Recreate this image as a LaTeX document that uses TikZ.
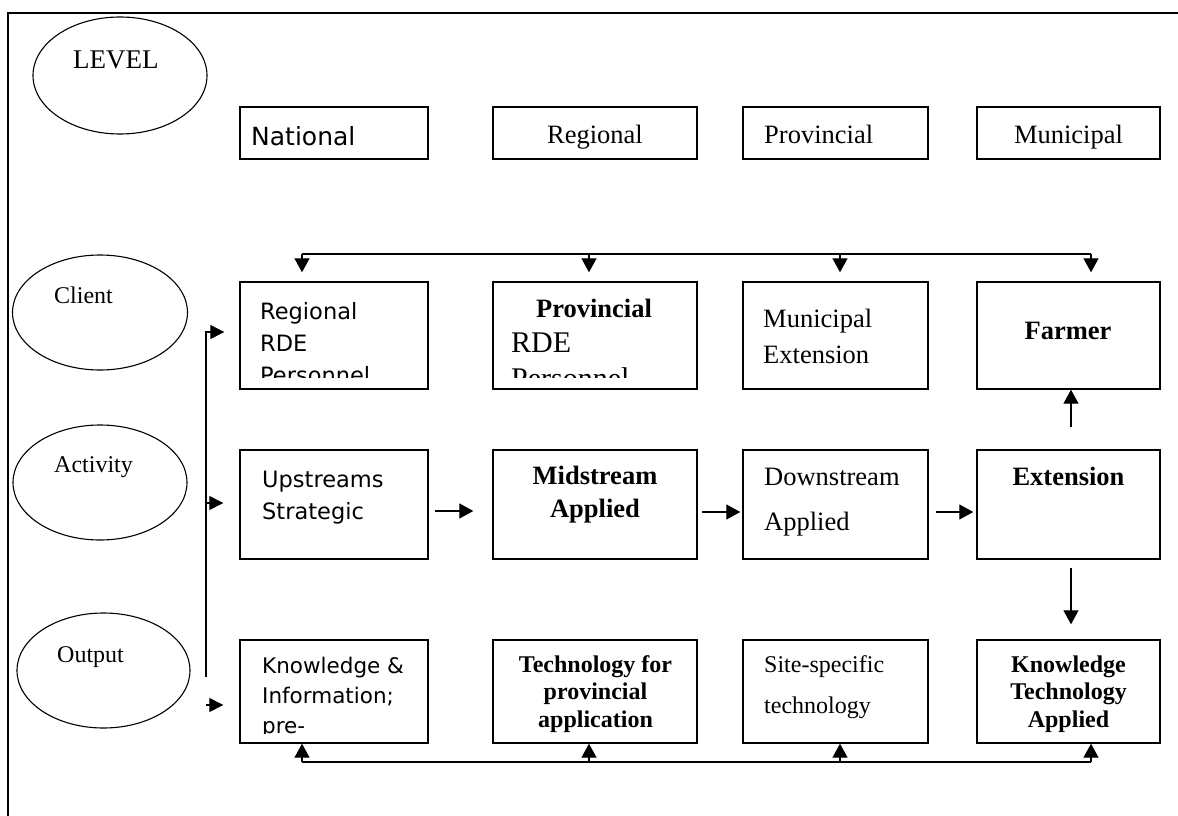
\documentclass[tikz,border=0pt]{standalone}
\usepackage{fontspec}
\setmainfont{Liberation Serif}
\newfontfamily\tahfont{DejaVu Sans}
\usetikzlibrary{shapes.geometric,arrows.meta}
\newcommand{\fs}[2]{\fontsize{#1bp}{#2bp}\selectfont}
\newcommand{\lft}[1]{\begin{tabular}[t]{@{}l@{}}#1\end{tabular}}
\newcommand{\ctr}[1]{\begin{tabular}[t]{@{}c@{}}#1\end{tabular}}
\tikzset{
  box/.style={draw, line width=1.4bp, rectangle, inner sep=0pt},
  oval/.style={draw, line width=1.1bp, ellipse, inner sep=0pt},
  conn/.style={line width=1.3bp},
  arr/.style={conn, -{Triangle[length=14bp,width=15bp]}},
  sarr/.style={conn, -{Triangle[length=14bp,width=14bp]}},
  txt/.style={inner sep=0pt, anchor=base west},
  ctxt/.style={inner sep=0pt, anchor=base},
}
\begin{document}
\begin{tikzpicture}[x=1bp,y=-1bp]
\useasboundingbox (0,0) rectangle (1178,816);
\fill[white] (0,0) rectangle (1178,816);
% frame
\coordinate (fbl) at (8,816);
\coordinate (ftl) at (8,13);
\coordinate (ftr) at (1178,13);
\draw[line width=2bp] (fbl) -- (ftl) -- (ftr);
% ellipses
\node[oval, minimum width=174bp, minimum height=117bp] (elev) at (120,75.5) {};
\node[oval, minimum width=175bp, minimum height=115bp] (ecli) at (100,312.5) {};
\node[oval, minimum width=174bp, minimum height=115bp] (eact) at (100,482.5) {};
\node[oval, minimum width=173bp, minimum height=115bp] (eout) at (103.5,670.5) {};
\node[txt, font={\fs{27}{30}}] (tlev) at (73,69) {LEVEL};
\node[txt, font={\fs{24}{28}}] (tcli) at (54,303) {Client};
\node[txt, font={\fs{24}{28}}] (tact) at (54,472) {Activity};
\node[txt, font={\fs{24}{28}}] (tout) at (57,662) {Output};
% level row
\node[box, minimum width=188bp, minimum height=52bp] (nat) at (334,133) {};
\node[box, minimum width=204bp, minimum height=52bp] (regl) at (595,133) {};
\node[box, minimum width=185bp, minimum height=52bp] (prov) at (835.5,133) {};
\node[box, minimum width=183bp, minimum height=52bp] (muni) at (1068.5,133) {};
\node[txt, font={\tahfont\fs{25}{30}}] (tnat) at (251,145) {National};
\node[ctxt, font={\fs{26.5}{30}}] (treg) at (595,143) {Regional};
\node[txt, font={\fs{26.5}{30}}] (tprov) at (764,143) {Provincial};
\node[ctxt, font={\fs{26.5}{30}}] (tmun) at (1068.5,143) {Municipal};
% client row
\node[box, minimum width=188bp, minimum height=107bp] (creg) at (334,335.5) {};
\node[box, minimum width=204bp, minimum height=107bp] (cprov) at (595,335.5) {};
\node[box, minimum width=185bp, minimum height=107bp] (cmun) at (835.5,335.5) {};
\node[box, minimum width=183bp, minimum height=107bp] (cfar) at (1068.5,335.5) {};
\begin{scope}
\clip (240,282) rectangle (428,377);
\node[txt, font={\tahfont\fs{22.5}{32}}] (tcreg) at (260,319) {\lft{Regional\\RDE\\Personnel}};
\end{scope}
\begin{scope}
\clip (493,282) rectangle (697,377);
\node[ctxt, font={\bfseries\fs{26.5}{30}}] (tcprov) at (594,317) {Provincial};
\node[txt, font={\fs{30}{36}}] (tcprov2) at (511,352) {\lft{RDE\\Personnel}};
\end{scope}
\node[txt, font={\fs{26.5}{36}}] (tcmun) at (763,327) {\lft{Municipal\\Extension}};
\node[ctxt, font={\bfseries\fs{26.5}{30}}] (tcfar) at (1068,339) {Farmer};
% activity row
\node[box, minimum width=188bp, minimum height=109bp] (aup) at (334,504.5) {};
\node[box, minimum width=204bp, minimum height=109bp] (amid) at (595,504.5) {};
\node[box, minimum width=185bp, minimum height=109bp] (adown) at (835.5,504.5) {};
\node[box, minimum width=183bp, minimum height=109bp] (aext) at (1068.5,504.5) {};
\node[txt, font={\tahfont\fs{22.5}{32}}] (taup) at (262,487) {\lft{Upstreams\\Strategic}};
\node[ctxt, font={\bfseries\fs{26.5}{33}}] (tamid) at (595,484) {\ctr{Midstream\\Applied}};
\node[txt, font={\fs{26.5}{45}}] (tadown) at (764,485) {\lft{Downstream\\Applied}};
\node[ctxt, font={\bfseries\fs{26.5}{30}}] (taext) at (1068.5,485) {Extension};
% output row
\node[box, minimum width=188bp, minimum height=103bp] (oknow) at (334,691.5) {};
\node[box, minimum width=204bp, minimum height=103bp] (otech) at (595,691.5) {};
\node[box, minimum width=185bp, minimum height=103bp] (osite) at (835.5,691.5) {};
\node[box, minimum width=183bp, minimum height=103bp] (okta) at (1068.5,691.5) {};
\begin{scope}
\clip (240,640) rectangle (428,733);
\node[txt, font={\tahfont\fs{21.5}{30}}] (tok) at (262,673) {\lft{Knowledge \&\\Information;\\pre-}};
\end{scope}
\node[ctxt, font={\bfseries\fs{24}{27.5}}] (tot) at (595.5,672) {\ctr{Technology for\\provincial\\application}};
\node[txt, font={\fs{24}{41}}] (tos) at (764,672) {\lft{Site-specific\\technology}};
\node[ctxt, font={\bfseries\fs{24}{27.5}}] (tokta) at (1068.5,672) {\ctr{Knowledge\\Technology\\Applied}};
% top distribution connector
\coordinate (t1) at (302,254);
\coordinate (t2) at (589,254);
\coordinate (t3) at (840,254);
\coordinate (t4) at (1091,254);
\draw[conn] (t1) -- (t4);
\draw[arr, shorten >=9bp] (t1) -- (t1 |- creg.north);
\draw[arr, shorten >=9bp] (t2) -- (t2 |- cprov.north);
\draw[arr, shorten >=9bp] (t3) -- (t3 |- cmun.north);
\draw[arr, shorten >=9bp] (t4) -- (t4 |- cfar.north);
% bottom feedback connector
\coordinate (b1) at (302,762);
\coordinate (b2) at (589,762);
\coordinate (b3) at (840,762);
\coordinate (b4) at (1091,762);
\draw[conn] (b1) -- (b4);
\draw[arr] (b1) -- (b1 |- oknow.south);
\draw[arr] (b2) -- (b2 |- otech.south);
\draw[arr] (b3) -- (b3 |- osite.south);
\draw[arr] (b4) -- (b4 |- okta.south);
% left connector
\coordinate (lvb) at (206,677);
\coordinate (lvt) at (206,332);
\coordinate (lva) at (206,503);
\coordinate (lvo) at (206,705);
\draw[sarr, shorten >=15bp] (lvb) -- (lvt) -- (lvt -| creg.west);
\draw[sarr, shorten >=16bp] (lva) -- (lva -| aup.west);
\draw[sarr, shorten >=16bp] (lvo) -- (lvo -| oknow.west);
% activity flow
\coordinate (h1) at (435,511);
\coordinate (h2) at (702,512);
\coordinate (h3) at (936,512);
\draw[arr, shorten >=19bp] (h1) -- (h1 -| amid.west);
\draw[arr, shorten >=2bp] (h2) -- (h2 -| adown.west);
\draw[arr, shorten >=3bp] (h3) -- (h3 -| aext.west);
% vertical arrows at extension
\coordinate (fu) at (1071,427);
\coordinate (ed) at (1071,568);
\draw[arr] (fu) -- (fu |- cfar.south);
\draw[arr, shorten >=15bp] (ed) -- (ed |- okta.north);
\end{tikzpicture}
\end{document}
